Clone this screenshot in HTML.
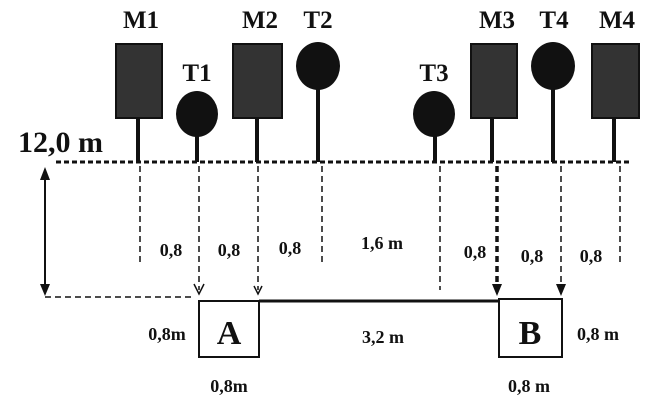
<!DOCTYPE html>
<html><head><meta charset="utf-8"><style>
html,body{margin:0;padding:0;background:#fff;}
svg{display:block;}
text{font-family:"Liberation Serif",serif;font-weight:bold;fill:#111;}
</style></head><body>
<svg width="662" height="400" viewBox="0 0 662 400">
<g font-size="25" text-anchor="middle">
<text x="141" y="28">M1</text>
<text x="260" y="28">M2</text>
<text x="318" y="28">T2</text>
<text x="197" y="81">T1</text>
<text x="434" y="81">T3</text>
<text x="497" y="28">M3</text>
<text x="554" y="28">T4</text>
<text x="617" y="28">M4</text>
</g>
<text x="18" y="152" font-size="30" font-weight="bold">12,0 m</text>
<g fill="#333" stroke="#111" stroke-width="2">
<rect x="116" y="44" width="46" height="74"/>
<rect x="233" y="44" width="49" height="74"/>
<rect x="471" y="44" width="46" height="74"/>
<rect x="592" y="44" width="47" height="74"/>
</g>
<g fill="#111">
<ellipse cx="197" cy="114" rx="21" ry="23"/>
<ellipse cx="318" cy="66" rx="22" ry="24"/>
<ellipse cx="434" cy="114" rx="21" ry="23"/>
<ellipse cx="553" cy="66" rx="22" ry="24"/>
</g>
<g stroke="#111" stroke-width="4">
<line x1="138" y1="118" x2="138" y2="162"/>
<line x1="197" y1="130" x2="197" y2="162"/>
<line x1="257" y1="118" x2="257" y2="162"/>
<line x1="318" y1="85" x2="318" y2="162"/>
<line x1="435" y1="130" x2="435" y2="162"/>
<line x1="492" y1="118" x2="492" y2="162"/>
<line x1="553" y1="85" x2="553" y2="162"/>
<line x1="614" y1="118" x2="614" y2="162"/>
</g>
<line x1="56" y1="162" x2="632" y2="162" stroke="#111" stroke-width="3" stroke-dasharray="5,3"/>
<g stroke="#111" stroke-width="1.5" stroke-dasharray="6,4" fill="none">
<line x1="140" y1="166" x2="140" y2="265"/>
<line x1="199" y1="166" x2="199" y2="290"/>
<line x1="258" y1="166" x2="258" y2="290"/>
<line x1="322" y1="166" x2="322" y2="263"/>
<line x1="440" y1="166" x2="440" y2="290"/>
<line x1="620" y1="166" x2="620" y2="263"/>
<line x1="561" y1="166" x2="561" y2="290"/>
<line x1="45" y1="297" x2="193" y2="297"/>
</g>
<line x1="497" y1="166" x2="497" y2="290" stroke="#111" stroke-width="3.5" stroke-dasharray="6,4"/>
<g stroke="#111" stroke-width="1.5" fill="none">
<polyline points="194,284 199,294 204,284"/>
<polyline points="254,286 258,294 262,286"/>
</g>
<g fill="#111">
<polygon points="492,284 502,284 497,296"/>
<polygon points="556,284 566,284 561,296"/>
<polygon points="40,284 50,284 45,296"/>
<polygon points="40,180 50,180 45,167"/>
</g>
<line x1="45" y1="175" x2="45" y2="288" stroke="#111" stroke-width="2"/>
<g fill="#fff" stroke="#111" stroke-width="2">
<rect x="199" y="301" width="60" height="56"/>
<rect x="499" y="299" width="63" height="58"/>
</g>
<line x1="259" y1="301" x2="499" y2="301" stroke="#111" stroke-width="3"/>
<text x="229" y="344" font-size="34" font-weight="normal" text-anchor="middle">A</text>
<text x="530" y="344" font-size="34" font-weight="normal" text-anchor="middle">B</text>
<g font-size="18" text-anchor="middle">
<text x="171" y="256">0,8</text>
<text x="229" y="256">0,8</text>
<text x="290" y="254">0,8</text>
<text x="382" y="249">1,6 m</text>
<text x="475" y="258">0,8</text>
<text x="532" y="262">0,8</text>
<text x="591" y="262">0,8</text>
<text x="167" y="340">0,8m</text>
<text x="383" y="343">3,2 m</text>
<text x="598" y="340">0,8 m</text>
<text x="229" y="392">0,8m</text>
<text x="529" y="392">0,8 m</text>
</g>
</svg>
</body></html>
